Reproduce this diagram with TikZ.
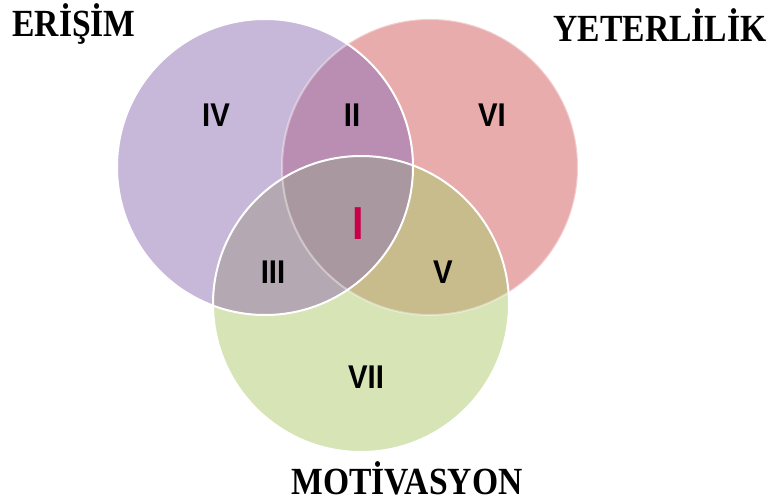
\documentclass[tikz,border=0pt]{standalone}
\usepackage{fontspec}
\setmainfont{Liberation Serif}
\newfontfamily\numfont{Liberation Sans}

\definecolor{purpc}{RGB}{199,184,218}
\definecolor{redc}{RGB}{232,172,172}
\definecolor{grnc}{RGB}{215,228,182}
\definecolor{purpred}{RGB}{186,142,178}
\definecolor{purpgrn}{RGB}{180,168,178}
\definecolor{redgrn}{RGB}{200,188,140}
\definecolor{allc}{RGB}{170,152,160}
\definecolor{onec}{RGB}{200,0,74}

\newcommand{\tallttl}[1]{\scalebox{1.05}[1.2]{#1}}
\newcommand{\tallnum}[1]{\scalebox{1}[1.12]{#1}}

\tikzset{every picture/.style={line width=0.75pt}}
\tikzset{
  title/.style={font=\fontsize{24}{28}\selectfont\bfseries, inner sep=0pt, anchor=base},
  region/.style={font=\numfont\fontsize{22}{26}\selectfont\bfseries, inner sep=0.75pt},
  rim/.style={draw=white, line width=1.5pt}
}

\begin{document}
\begin{tikzpicture}[x=0.75pt,y=0.75pt,yscale=-1,xscale=1]
\useasboundingbox (0,0) rectangle (772,503);

%Circle centres
\coordinate (erisim) at (265,167);
\coordinate (yeterlilik) at (430,167);
\coordinate (motivasyon) at (361,304);

%Shape: Circles
\fill[purpc] (erisim) circle (111pt);
\fill[redc] (yeterlilik) circle (111pt);
\fill[grnc] (motivasyon) circle (111pt);
%Overlaps
\begin{scope}
  \clip (erisim) circle (111pt);
  \fill[purpred] (yeterlilik) circle (111pt);
  \fill[purpgrn] (motivasyon) circle (111pt);
\end{scope}
\begin{scope}
  \clip (yeterlilik) circle (111pt);
  \fill[redgrn] (motivasyon) circle (111pt);
\end{scope}
\begin{scope}
  \clip (erisim) circle (111pt);
  \clip (yeterlilik) circle (111pt);
  \fill[allc] (motivasyon) circle (111pt);
\end{scope}
%Rims
\draw[rim, draw opacity=0.4] (yeterlilik) circle (111pt);
\draw[rim] (erisim) circle (111pt);
\draw[rim] (motivasyon) circle (111pt);

% Text Node
\node[region] (r4) at (216,115) {\tallnum{IV}};
\node[region] (r2) at (352,115) {\tallnum{II}};
\node[region] (r6) at (492,115) {\tallnum{VI}};
\node[region, text=onec, font=\numfont\fontsize{31}{34}\selectfont\bfseries] (r1) at (358,224) {\tallnum{I}};
\node[region] (r3) at (273,272) {\tallnum{III}};
\node[region] (r5) at (443,272) {\tallnum{V}};
\node[region] (r7) at (366,377) {\tallnum{VII}};

% Text Node
\node[title] (terisim) at (74,37) {\tallttl{ERİŞİM}};
\node[title] (tyeter) at (660,42) {\tallttl{YETERLİLİK}};
\node[title] (tmotiv) at (407,494) {\tallttl{MOTİVASYON}};
\end{tikzpicture}
\end{document}
